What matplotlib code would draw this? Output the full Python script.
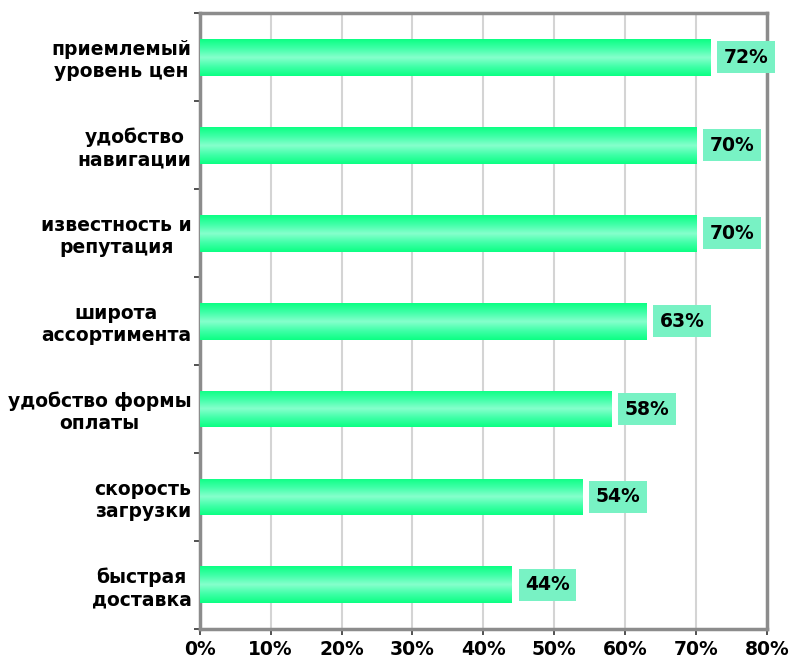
import numpy as np
import matplotlib.pyplot as plt
from matplotlib.colors import LinearSegmentedColormap
from matplotlib.ticker import FixedLocator, PercentFormatter

# survey data, top to bottom
categories = ['приемлемый\nуровень цен', 'удобство\nнавигации', 'известность и\nрепутация',
              'широта\nассортимента', 'удобство формы\nоплаты', 'скорость\nзагрузки',
              'быстрая\nдоставка']
values = [72, 70, 70, 63, 58, 54, 44]
xticks = [0, 10, 20, 30, 40, 50, 60, 70, 80]

plt.rcParams['font.family'] = ['DejaVu Sans']
plt.rcParams['font.weight'] = 'bold'
fs = 13.5

fig = plt.figure(figsize=(7.93, 6.62), dpi=100)
ax = fig.add_axes([0.252, 0.050, 0.715, 0.930])

y = np.arange(len(values))[::-1]
h = 0.42
bars = ax.barh(y, values, height=h, color='#10ff88', zorder=2)

# gradient fill: bright green edges, pale centre
cmap = LinearSegmentedColormap.from_list('g', ['#0cff84', '#40ffa8', '#86ffcc', '#40ffa8', '#0cff84'])
grad = np.linspace(0, 1, 100).reshape(-1, 1)
for b, yy, v in zip(bars, y, values):
    im = ax.imshow(grad, cmap=cmap, aspect='auto', zorder=3,
                   extent=(0, v, yy - h / 2, yy + h / 2), origin='lower')
    im.set_clip_path(b)
    ax.text(v + 1.9, yy, f'{v}%', va='center', ha='left', fontsize=fs,
            fontweight='bold', zorder=4,
            bbox=dict(boxstyle='square,pad=0.35', fc='#78f2c4', ec='none'))

ax.set_xlim(0, 80)
ax.set_ylim(-0.5, len(values) - 0.5)
ax.set_xticks(xticks)
ax.xaxis.set_major_formatter(PercentFormatter(decimals=0))
ax.set_yticks(y)
ax.set_yticklabels(categories, fontsize=fs, fontweight='bold', multialignment='center')
ax.yaxis.set_minor_locator(FixedLocator(np.arange(-0.5, len(values), 1)))
ax.tick_params(axis='y', which='major', length=0, pad=6)
ax.tick_params(axis='y', which='minor', length=4, width=1.2, color='#333333')
ax.tick_params(axis='x', length=4, width=1.2, color='#333333', labelsize=fs, pad=4)

ax.grid(axis='x', color='#d4d4d4', linewidth=1.5, zorder=0)
ax.set_axisbelow(True)
for s in ax.spines.values():
    s.set_color('#8c8c8c')
    s.set_linewidth(2.5)

fig.savefig('out.png', dpi=100)
